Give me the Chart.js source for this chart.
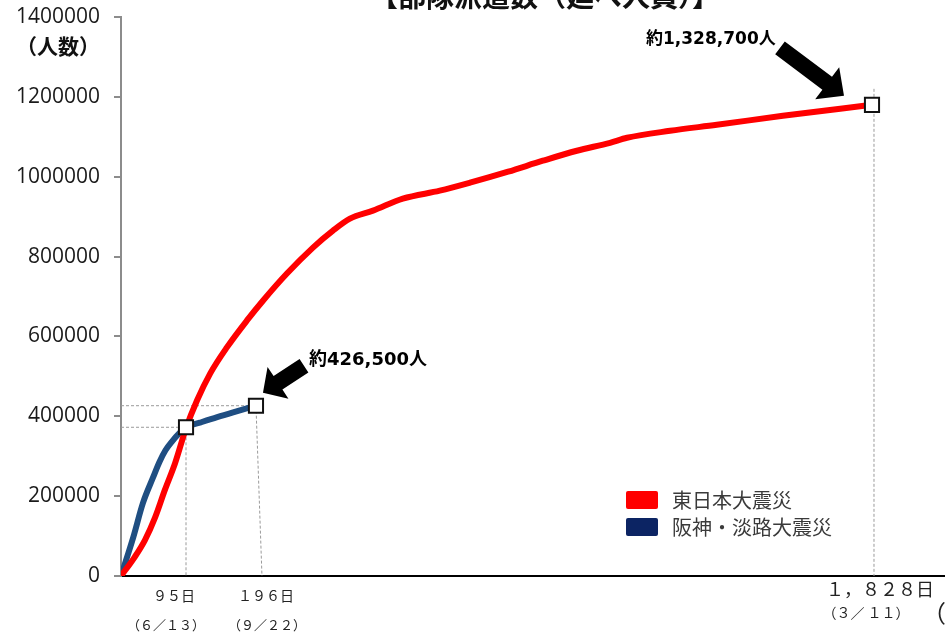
<!DOCTYPE html>
<html lang="ja">
<head>
<meta charset="utf-8">
<title>部隊派遣数（延べ人員）</title>
<script src="https://cdn.jsdelivr.net/npm/chart.js@4.4.1/dist/chart.umd.min.js"></script>
<style>
  html, body { margin:0; padding:0; background:#fff; overflow:hidden; }
  #wrap { position:relative; width:945px; height:632px; overflow:hidden; }
  #chart { display:block; }
  #legend { position:absolute; left:626px; top:486px; font-family:"Noto Sans CJK JP", sans-serif; font-size:20px; color:#3a3a3a; }
  #legend div { display:flex; align-items:center; height:27px; }
  #legend span.box { display:inline-block; width:32px; height:18px; border-radius:2px; margin-right:14px; }
</style>
</head>
<body>
<div id="wrap">
  <canvas id="chart" width="945" height="632"></canvas>
  <div id="legend"></div>
</div>
<script>
// 経過日数と延べ人員
const eastDays = [0, 20, 35, 50, 64, 79, 95, 111, 130, 154, 183, 215, 278, 347, 400, 445, 506, 585, 683, 763, 864, 956, 1046, 1134, 1179, 1293, 1417, 1592, 1828];
const eastTotal = [0, 47500, 90000, 147500, 215000, 282500, 370000, 440000, 507500, 572500, 640000, 690000, 757500, 822500, 865000, 895000, 915000, 945000, 965000, 985000, 1012500, 1040000, 1065000, 1085000, 1097500, 1115000, 1130000, 1152500, 1180000];

const hanshinDays = [0, 18, 32, 47, 56, 65, 75, 85, 95, 115, 140, 163, 196];
const hanshinTotal = [0, 97500, 182500, 247500, 285000, 315000, 338000, 357000, 372500, 384000, 398000, 410000, 426500];

const seriesNames = ['東日本大震災', '阪神・淡路大震災'];
const eastNote = '約1,328,700人';

const xTickDays = [95, 196, 1828];
const xTickDay = ['９５日', '１９６日', '１，８２８日'];
const xTickDate = ['（６／１３）', '（９／２２）', '（３／ １１）'];

const yTicks = [0, 200000, 400000, 600000, 800000, 1000000, 1200000, 1400000];

const RED = '#ff0000';
const NAVY_LINE = '#1f4e82';
const NAVY_BOX = '#0c2463';

// 日数軸は区間ごとに縮尺が違う
const xKnots = [[0, 0], [95, 0.0789], [196, 0.1638], [1828, 0.9114], [2020, 1]];

function dayToFrac(v){
  for(let i = 1; i < xKnots.length; i++){
    const a = xKnots[i-1], b = xKnots[i];
    if(v <= b[0] || i === xKnots.length - 1) return a[1] + (v - a[0]) * (b[1] - a[1]) / (b[0] - a[0]);
  }
  return 0;
}
function fracToDay(f){
  for(let i = 1; i < xKnots.length; i++){
    const a = xKnots[i-1], b = xKnots[i];
    if(f <= b[1] || i === xKnots.length - 1) return a[0] + (f - a[1]) * (b[0] - a[0]) / (b[1] - a[1]);
  }
  return 0;
}

class PiecewiseScale extends Chart.LinearScale {
  getPixelForValue(v){ return this.getPixelForDecimal(dayToFrac(v)); }
  getValueForPixel(p){ return fracToDay(this.getDecimalForPixel(p)); }
}
PiecewiseScale.id = 'piecewise';
PiecewiseScale.defaults = Chart.LinearScale.defaults;
Chart.register(PiecewiseScale);

function toPoints(xs, ys){ return xs.map((x, i) => ({ x, y: ys[i] })); }

const hanshinMid = hanshinDays.indexOf(95);
const markers = [
  { x: hanshinDays[hanshinMid], y: hanshinTotal[hanshinMid], cross: true },
  { x: hanshinDays[hanshinDays.length-1], y: hanshinTotal[hanshinTotal.length-1], cross: true },
  { x: eastDays[eastDays.length-1], y: eastTotal[eastTotal.length-1], cross: false }
];

function fmt(n){ return n.toLocaleString('en-US'); }

function arrow(ctx, tx, ty, px, py, headLen, headHalf, shaftHalf){
  const dx = px - tx, dy = py - ty, len = Math.hypot(dx, dy);
  const ux = dx / len, uy = dy / len, nx = -uy, ny = ux;
  const bx = px - ux * headLen, by = py - uy * headLen;
  ctx.beginPath();
  ctx.moveTo(tx + nx * shaftHalf, ty + ny * shaftHalf);
  ctx.lineTo(bx + nx * shaftHalf, by + ny * shaftHalf);
  ctx.lineTo(bx + nx * headHalf, by + ny * headHalf);
  ctx.lineTo(px, py);
  ctx.lineTo(bx - nx * headHalf, by - ny * headHalf);
  ctx.lineTo(bx - nx * shaftHalf, by - ny * shaftHalf);
  ctx.lineTo(tx - nx * shaftHalf, ty - ny * shaftHalf);
  ctx.closePath();
  ctx.fill();
}

// 補助線（点線）
const guidePlugin = {
  id: 'guides',
  beforeDatasetsDraw(chart){
    const { ctx, scales: { x, y }, chartArea } = chart;
    ctx.save();
    ctx.strokeStyle = '#9a9a9a';
    ctx.lineWidth = 1;
    ctx.setLineDash([3, 2]);
    markers.forEach(m => {
      const px = x.getPixelForValue(m.x), py = y.getPixelForValue(m.y);
      ctx.beginPath();
      ctx.moveTo(px + (m.cross ? 0 : 2), m.cross ? py : py - 16);
      ctx.lineTo(px + (m.cross ? (m.x === 196 ? 6 : 0) : 2), chartArea.bottom);
      if(m.cross){
        ctx.moveTo(chartArea.left, py);
        ctx.lineTo(px, py);
      }
      ctx.stroke();
    });
    ctx.restore();
  }
};

// 見出し・軸名・目盛ラベル・注記
const textPlugin = {
  id: 'texts',
  afterDraw(chart){
    const { ctx, scales: { x, y } } = chart;
    ctx.save();
    ctx.fillStyle = '#111';
    ctx.textAlign = 'center';
    ctx.textBaseline = 'alphabetic';
    ctx.font = 'bold 28px "Noto Sans CJK JP"';
    ctx.fillText('【部隊派遣数（延べ人員）】', 545, 7);

    ctx.textBaseline = 'middle';
    ctx.font = 'bold 21px "Noto Sans CJK JP"';
    ctx.fillText('（人数）', 58, 46);

    ctx.fillStyle = '#222';
    const dayFont = [14, 14, 18], dateFont = [13, 13, 14];
    const dayDx = [-12, 10, 8], dateDx = [-20, 11, -6];
    const dayY = [596, 596, 589], dateY = [625, 625, 613];
    xTickDays.forEach((d, i) => {
      const px = x.getPixelForValue(d);
      ctx.font = dayFont[i] + 'px "Noto Sans CJK JP"';
      ctx.fillText(xTickDay[i], px + dayDx[i], dayY[i]);
      ctx.font = dateFont[i] + 'px "Noto Sans CJK JP"';
      ctx.fillText(xTickDate[i], px + dateDx[i], dateY[i]);
    });
    ctx.textAlign = 'left';
    ctx.font = '24px "Noto Sans CJK JP"';
    ctx.fillText('（日数）', 922, 613);

    // 注記と矢印
    ctx.fillStyle = '#000';
    const mB = markers[1], mE = markers[2];
    const bx = x.getPixelForValue(mB.x), by = y.getPixelForValue(mB.y);
    const ex = x.getPixelForValue(mE.x), ey = y.getPixelForValue(mE.y);
    ctx.textAlign = 'left';
    ctx.font = 'bold 18px "DejaVu Sans", "Noto Sans CJK JP"';
    ctx.fillText('約' + fmt(mB.y) + '人', 309, 360);
    ctx.font = 'bold 17px "DejaVu Sans", "Noto Sans CJK JP"';
    ctx.fillText(eastNote, 646, 40);
    arrow(ctx, bx + 48, by - 40, bx + 7, by - 13, 18, 19, 8);
    arrow(ctx, ex - 92, ey - 57, ex - 28, ey - 9, 21, 20, 8);
    ctx.restore();
  }
};

const chart = new Chart(document.getElementById('chart'), {
  type: 'line',
  data: {
    datasets: [
      {
        label: 'markers',
        data: markers.map(m => ({ x: m.x, y: m.y })),
        showLine: false,
        pointStyle: 'rect',
        pointRadius: 10,
        pointBackgroundColor: '#fff',
        pointBorderColor: '#111',
        pointBorderWidth: 2,
        clip: false,
        order: 0
      },
      {
        label: seriesNames[0],
        data: toPoints(eastDays, eastTotal),
        borderColor: RED,
        backgroundColor: RED,
        borderWidth: 6,
        pointRadius: 0,
        cubicInterpolationMode: 'monotone',
        order: 1
      },
      {
        label: seriesNames[1],
        data: toPoints(hanshinDays, hanshinTotal),
        borderColor: NAVY_LINE,
        backgroundColor: NAVY_BOX,
        borderWidth: 6,
        pointRadius: 0,
        cubicInterpolationMode: 'monotone',
        order: 2
      }
    ]
  },
  options: {
    responsive: false,
    animation: false,
    layout: { autoPadding: false, padding: { top: 17, right: 0, left: 0, bottom: 0 } },
    plugins: { legend: { display: false }, title: { display: false }, tooltip: { enabled: false } },
    scales: {
      x: {
        type: 'piecewise',
        min: 0,
        max: 2020,
        afterFit(s){ s.height = 56; s.paddingLeft = 0; s.paddingRight = 0; },
        ticks: { display: false },
        grid: { display: false },
        border: { color: '#000', width: 2 }
      },
      y: {
        min: 0,
        max: 1400000,
        afterFit(s){ s.width = 121; s.paddingTop = 0; s.paddingBottom = 0; },
        afterBuildTicks(s){ s.ticks = yTicks.map(v => ({ value: v })); },
        ticks: {
          color: '#1a1a1a',
          padding: 14,
          font: { family: '"Open Sans"', size: 21 },
          callback: v => String(v)
        },
        grid: { drawOnChartArea: false, tickLength: 7, color: '#8c8c8c', lineWidth: 2 },
        border: { color: '#8c8c8c', width: 2 }
      }
    }
  },
  plugins: [guidePlugin, textPlugin]
});

// 凡例
const legendColors = [RED, NAVY_BOX];
document.getElementById('legend').innerHTML = seriesNames.map((n, i) =>
  `<div><span class="box" style="background:${legendColors[i]}"></span>${n}</div>`).join('');
</script>
</body>
</html>
